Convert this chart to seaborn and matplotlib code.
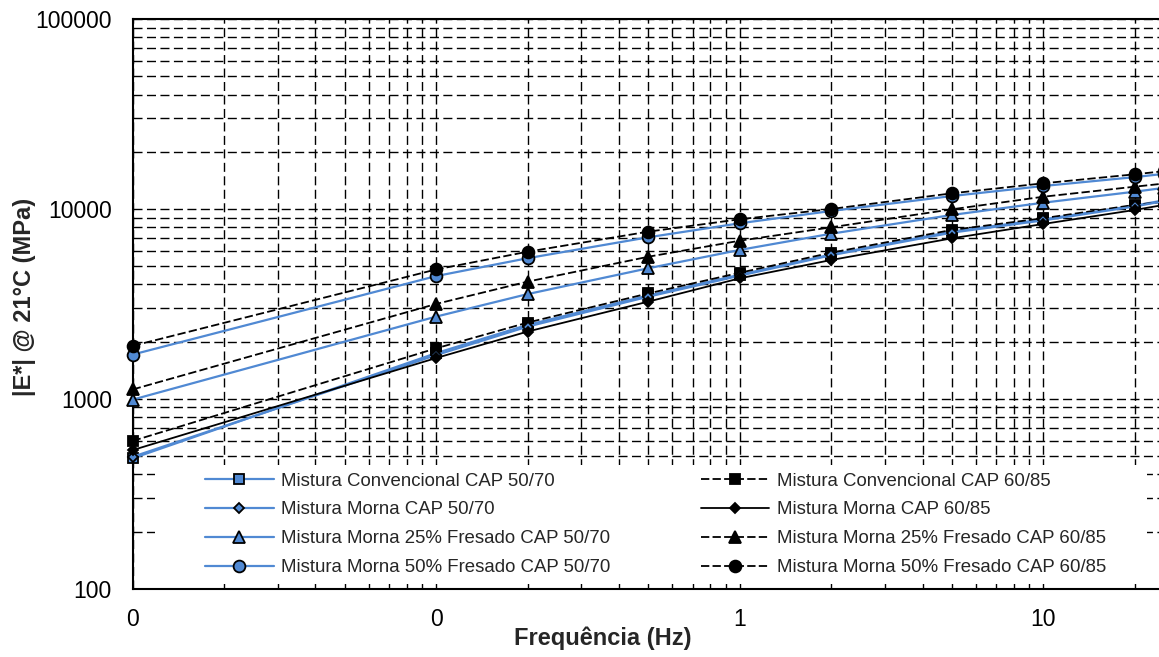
import matplotlib
matplotlib.use("Agg")
import matplotlib.pyplot as plt
import seaborn as sns
import numpy as np
from matplotlib.ticker import FixedLocator, LogLocator, FuncFormatter, NullFormatter
from matplotlib.patches import Rectangle

# ---------------- data ----------------
freq = [0.01, 0.1, 0.2, 0.5, 1, 2, 5, 10, 20, 25]

conv_5070 = [486, 1740, 2450, 3500, 4500, 5750, 7600, 8800, 10400, 11100]
morna_5070 = [495, 1700, 2400, 3450, 4450, 5700, 7500, 8700, 10300, 11000]
f25_5070 = [990, 2710, 3560, 4870, 6080, 7400, 9290, 10780, 12320, 12900]
f50_5070 = [1710, 4430, 5500, 7090, 8400, 9750, 11690, 13200, 14700, 15300]
conv_6085 = [600, 1845, 2520, 3590, 4610, 5880, 7750, 8930, 10500, 10900]
morna_6085 = [537, 1640, 2260, 3250, 4310, 5380, 7000, 8330, 9870, 10500]
f25_6085 = [1120, 3160, 4140, 5600, 6800, 8000, 9950, 11590, 13090, 13600]
f50_6085 = [1900, 4800, 5950, 7590, 8820, 9990, 12080, 13640, 15210, 15800]

labels = [
    "Mistura Convencional CAP 50/70",
    "Mistura Convencional CAP 60/85",
    "Mistura Morna CAP 50/70",
    "Mistura Morna CAP 60/85",
    "Mistura Morna 25% Fresado CAP 50/70",
    "Mistura Morna 25% Fresado CAP 60/85",
    "Mistura Morna 50% Fresado CAP 50/70",
    "Mistura Morna 50% Fresado CAP 60/85",
]
x_ticks = [0.01, 0.1, 1, 10]
y_ticks = [100, 1000, 10000, 100000]

# ---------------- style ----------------
sns.set_style("white")
plt.rcParams['font.family'] = ['Liberation Sans', 'DejaVu Sans']

W, H = 1159, 657
fig = plt.figure(figsize=(W / 100, H / 100), dpi=100)
x0, x1 = 132.7, 1159.0
y_top, y_bot = 19.0, 588.7
ax = fig.add_axes([x0 / W, (H - y_bot) / H, (x1 - x0) / W, (y_bot - y_top) / H])

BLUE = "#5089D3"
dash = (0, (4.6, 1.8))
series = [
    (conv_5070, BLUE, "-", "s", 7.5, BLUE),
    (conv_6085, "black", dash, "s", 7.5, "black"),
    (morna_5070, BLUE, "-", "D", 5.5, BLUE),
    (morna_6085, "black", "-", "D", 5.5, "black"),
    (f25_5070, BLUE, "-", "^", 8.5, BLUE),
    (f25_6085, "black", dash, "^", 8.5, "black"),
    (f50_5070, BLUE, "-", "o", 8.5, BLUE),
    (f50_6085, "black", dash, "o", 8.5, "black"),
]

handles = []
for (vals, col, ls, mk, ms, mfc), lab in zip(series, labels):
    sns.lineplot(x=freq, y=vals, ax=ax, color=col, linestyle=ls,
                 linewidth=1.6 if col == BLUE else 1.3,
                 marker=mk, markersize=ms, markerfacecolor=mfc,
                 markeredgecolor="black", markeredgewidth=1.3,
                 errorbar=None, label=lab, legend=False, clip_on=False, zorder=3)
    handles.append(ax.lines[-1])

ax.set_xscale("log")
ax.set_yscale("log")
ax.set_xlim(0.01, 10 ** (1 + (1159 - 1043.3) / 303.5))
ax.set_ylim(100, 100000)

ax.xaxis.set_major_locator(FixedLocator(x_ticks))
ax.xaxis.set_minor_locator(LogLocator(base=10, subs=np.arange(2, 10)))
ax.xaxis.set_major_formatter(FuncFormatter(lambda v, p: f"{v:.0f}"))
ax.xaxis.set_minor_formatter(NullFormatter())
ax.yaxis.set_major_locator(FixedLocator(y_ticks))
ax.yaxis.set_minor_locator(LogLocator(base=10, subs=np.arange(2, 10)))
ax.yaxis.set_major_formatter(FuncFormatter(lambda v, p: f"{v:.0f}"))
ax.yaxis.set_minor_formatter(NullFormatter())

ax.set_axisbelow(True)
ax.grid(which="both", color="black", linestyle=(0, (6.5, 3.2)), linewidth=1.0)

ax.tick_params(axis="x", which="major", direction="out", length=5, width=1.2,
               labelsize=16.5, pad=9, color="black", labelcolor="black")
ax.tick_params(axis="x", which="minor", direction="in", length=3, width=1.0, color="black")
ax.tick_params(axis="y", which="major", direction="out", length=5, width=1.2,
               labelsize=16.5, pad=10, color="black", labelcolor="black")
ax.tick_params(axis="y", which="minor", length=0)

for s in ["top", "left", "bottom"]:
    ax.spines[s].set_visible(True)
    ax.spines[s].set_color("black")
    ax.spines[s].set_linewidth(1.5)
ax.spines["right"].set_visible(False)

# white legend background box
bg = Rectangle((155 / W, (H - 584) / H), (1147 - 155) / W, (584 - 465) / H,
               transform=fig.transFigure, facecolor="white", edgecolor="none",
               zorder=2.2, clip_on=False)
ax.add_patch(bg)

leg_order = [0, 2, 4, 6, 1, 3, 5, 7]
ax.legend([handles[i] for i in leg_order], [labels[i] for i in leg_order],
          ncol=2, loc="upper left", bbox_to_anchor=(205 / W, 1 - 472.5 / H),
          bbox_transform=fig.transFigure, frameon=False, fontsize=13.4,
          handlelength=3.7, handletextpad=0.38, columnspacing=4.85,
          labelspacing=0.635, borderpad=0, borderaxespad=0)

ax.set_xlabel("Frequência (Hz)", fontsize=17, fontweight="bold", va="center")
ax.xaxis.set_label_coords((602.5 - x0) / (x1 - x0), -(638 - y_bot) / (y_bot - y_top))
ax.set_ylabel("|E*| @ 21°C (MPa)", fontsize=17, fontweight="bold", va="center")
ax.yaxis.set_label_coords((25 - x0) / (x1 - x0), (y_bot - 296.7) / (y_bot - y_top))

fig.savefig("out.png", dpi=100)
